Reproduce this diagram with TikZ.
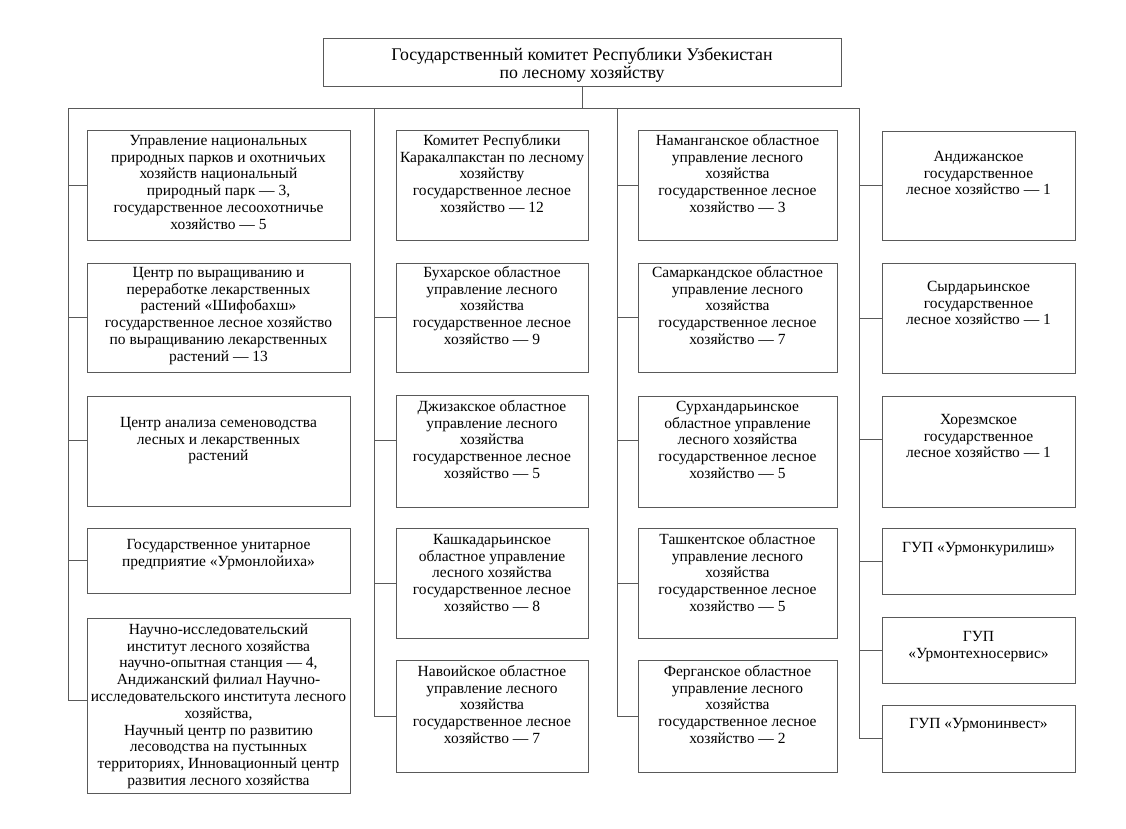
\documentclass[tikz,border=0pt]{standalone}
\usepackage{fontspec}
\setmainfont{Liberation Serif}
\usetikzlibrary{calc}
\tikzset{
  box/.style={draw=black!65, line width=0.9pt, rectangle, inner sep=0pt, outer sep=0pt,
    font=\fontsize{15.5}{16.8}\selectfont, text=black},
  topbox/.style={box, font=\fontsize{17.8}{17}\selectfont},
  conn/.style={draw=black!65, line width=0.8pt},
}
\newcommand\bx[8][box]{%
  \pgfmathsetlengthmacro\bxw{#5-#3}%
  \pgfmathsetlengthmacro\bxh{#6-#4}%
  \node[#1, anchor=north west] (#2) at (#3,#4)
    {\parbox[c][\bxh][t]{\bxw}{\centering\vspace*{#7pt}\begin{tabular}[t]{@{}c@{}}#8\end{tabular}\par}};%
}
\begin{document}
\begin{tikzpicture}[x=1pt,y=-1pt]
\useasboundingbox (0,0) rectangle (1126,829);

\bx[topbox]{top}{323}{38}{841}{86}{10}{Государственный комитет Республики Узбекистан\\по лесному хозяйству}

\coordinate (bus1) at (68,108);
\coordinate (bus2) at (374,108);
\coordinate (bus3) at (617,108);
\coordinate (bus4) at (859,108);

% column 1
\bx{b11}{87}{130}{350}{240}{3.5}{Управление национальных\\природных парков и охотничьих\\хозяйств национальный\\природный парк — 3,\\государственное лесоохотничье\\хозяйство — 5}
\bx{b12}{87}{263}{350}{372}{2.5}{Центр по выращиванию и\\переработке лекарственных\\растений «Шифобахш»\\государственное лесное хозяйство\\по выращиванию лекарственных\\растений — 13}
\bx{b13}{87}{396}{350}{506}{19.5}{Центр анализа семеноводства\\лесных и лекарственных\\растений}
\bx{b14}{87}{528}{350}{593}{9.5}{Государственное унитарное\\предприятие «Урмонлойиха»}
\bx{b15}{87}{618}{350}{793}{4.5}{Научно-исследовательский\\институт лесного хозяйства\\научно-опытная станция — 4,\\Андижанский филиал Научно-\\исследовательского института лесного\\хозяйства,\\Научный центр по развитию\\лесоводства на пустынных\\территориях, Инновационный центр\\развития лесного хозяйства}

% column 2
\bx{b21}{396}{130}{588}{240}{3.5}{Комитет Республики\\Каракалпакстан по лесному\\хозяйству\\государственное лесное\\хозяйство — 12}
\bx{b22}{396}{263}{588}{372}{2.5}{Бухарское областное\\управление лесного\\хозяйства\\государственное лесное\\хозяйство — 9}
\bx{b23}{396}{395}{588}{507}{4.5}{Джизакское областное\\управление лесного\\хозяйства\\государственное лесное\\хозяйство — 5}
\bx{b24}{396}{528}{588}{638}{4.5}{Кашкадарьинское\\областное управление\\лесного хозяйства\\государственное лесное\\хозяйство — 8}
\bx{b25}{396}{660}{588}{772}{4.5}{Навоийское областное\\управление лесного\\хозяйства\\государственное лесное\\хозяйство — 7}

% column 3
\bx{b31}{638}{130}{837}{240}{3.5}{Наманганское областное\\управление лесного\\хозяйства\\государственное лесное\\хозяйство — 3}
\bx{b32}{638}{263}{837}{372}{2.5}{Самаркандское областное\\управление лесного\\хозяйства\\государственное лесное\\хозяйство — 7}
\bx{b33}{638}{396}{837}{507}{3.5}{Сурхандарьинское\\областное управление\\лесного хозяйства\\государственное лесное\\хозяйство — 5}
\bx{b34}{638}{528}{837}{638}{4.5}{Ташкентское областное\\управление лесного\\хозяйства\\государственное лесное\\хозяйство — 5}
\bx{b35}{638}{660}{837}{772}{4.5}{Ферганское областное\\управление лесного\\хозяйства\\государственное лесное\\хозяйство — 2}

% column 4
\bx{b41}{882}{131}{1075}{240}{18.5}{Андижанское\\государственное\\лесное хозяйство — 1}
\bx{b42}{882}{263}{1075}{373}{16.5}{Сырдарьинское\\государственное\\лесное хозяйство — 1}
\bx{b43}{882}{396}{1075}{507}{16.5}{Хорезмское\\государственное\\лесное хозяйство — 1}
\bx{b44}{882}{528}{1075}{594}{12.5}{ГУП «Урмонкурилиш»}
\bx{b45}{882}{617}{1075}{683}{12.5}{ГУП\\«Урмонтехносервис»}
\bx{b46}{882}{705}{1075}{772}{11.5}{ГУП «Урмонинвест»}

% trunk
\draw[conn] (top.south) -- (top.south |- bus1);
\draw[conn] (bus1) -- (bus4);

% column 1 connectors
\draw[conn] (b11.west) -- (b11.west -| bus1);
\draw[conn] (b12.west) -- (b12.west -| bus1);
\draw[conn] ([yshift=11pt]b13.west) -- ([yshift=11pt]b13.west -| bus1);
\draw[conn] (b14.west) -- (b14.west -| bus1);
\draw[conn] ([yshift=5pt]b15.west) -- ([yshift=5pt]b15.west -| bus1) -- (bus1);

% column 2 connectors
\draw[conn] (b22.west) -- (b22.west -| bus2);
\draw[conn] ([yshift=11pt]b23.west) -- ([yshift=11pt]b23.west -| bus2);
\draw[conn] (b24.west) -- (b24.west -| bus2);
\draw[conn] (b25.west) -- (b25.west -| bus2) -- (bus2);

% column 3 connectors
\draw[conn] (b31.west) -- (b31.west -| bus3);
\draw[conn] (b32.west) -- (b32.west -| bus3);
\draw[conn] ([yshift=11pt]b33.west) -- ([yshift=11pt]b33.west -| bus3);
\draw[conn] (b34.west) -- (b34.west -| bus3);
\draw[conn] (b35.west) -- (b35.west -| bus3) -- (bus3);

% column 4 connectors
\draw[conn] (b41.west) -- (b41.west -| bus4);
\draw[conn] (b42.west) -- (b42.west -| bus4);
\draw[conn] ([yshift=12pt]b43.west) -- ([yshift=12pt]b43.west -| bus4);
\draw[conn] (b44.west) -- (b44.west -| bus4);
\draw[conn] (b45.west) -- (b45.west -| bus4);
\draw[conn] (b46.west) -- (b46.west -| bus4) -- (bus4);
\end{tikzpicture}
\end{document}
